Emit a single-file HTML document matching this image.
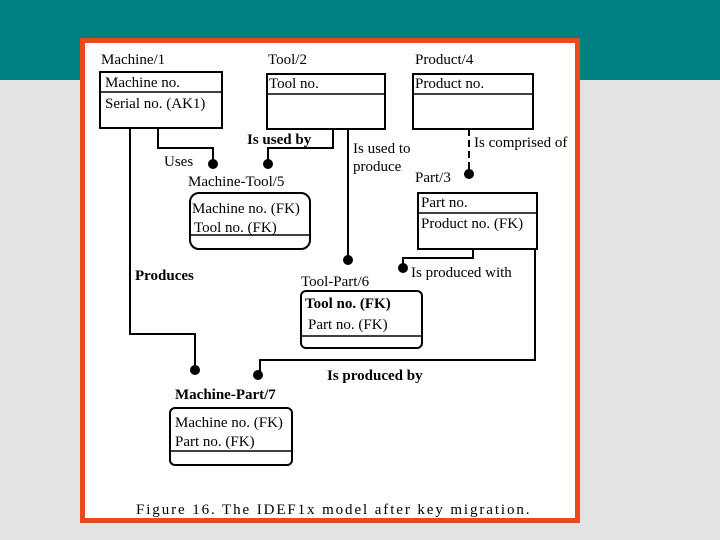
<!DOCTYPE html>
<html><head><style>
body{margin:0;width:720px;height:540px;overflow:hidden;background:#e3e3e3;position:relative;font-family:"Liberation Serif",serif;}
.top{position:absolute;left:0;top:0;width:720px;height:80px;background:#008080;}
.frame{position:absolute;left:80px;top:38px;width:490px;height:475px;border:5px solid #e84a1e;background:#fff;}
</style></head><body>
<div class="top"></div>
<div class="frame"></div>
<svg width="720" height="540" style="position:absolute;left:0;top:0" font-family="Liberation Serif, serif" font-size="15" fill="#000">
<g fill="none" stroke="#000" stroke-width="2">
<rect x="100" y="72" width="122" height="56"/><line x1="100" y1="92" x2="222" y2="92" stroke-width="1.5"/>
<rect x="267" y="74" width="118" height="55"/><line x1="267" y1="94" x2="385" y2="94" stroke-width="1.5"/>
<rect x="413" y="74" width="120" height="55"/><line x1="413" y1="94" x2="533" y2="94" stroke-width="1.5"/>
<rect x="190" y="193" width="120" height="56" rx="9"/><line x1="190" y1="235" x2="310" y2="235" stroke-width="1.5"/>
<rect x="418" y="193" width="119" height="56"/><line x1="418" y1="213" x2="537" y2="213" stroke-width="1.5"/>
<rect x="301" y="291" width="121" height="57" rx="5"/><line x1="301" y1="336" x2="422" y2="336" stroke-width="1.5"/>
<rect x="170" y="408" width="122" height="57" rx="5"/><line x1="170" y1="451" x2="292" y2="451" stroke-width="1.5"/>
<polyline points="130,128 130,334 195,334 195,368"/>
<polyline points="158,128 158,148 213,148 213,162"/>
<polyline points="333,129 333,148 268,148 268,162"/>
<line x1="348" y1="129" x2="348" y2="258"/>
<line x1="469" y1="129" x2="469" y2="170" stroke-dasharray="7,4"/>
<polyline points="473,249 473,258 403,258 403,266"/>
<polyline points="535,249 535,360 260,360 260,373"/>
</g>
<g fill="#000">
<circle cx="213" cy="164" r="5"/><circle cx="268" cy="164" r="5"/>
<circle cx="348" cy="260" r="5"/><circle cx="469" cy="174" r="5"/>
<circle cx="403" cy="268" r="5"/><circle cx="195" cy="370" r="5"/>
<circle cx="258" cy="375" r="5"/>
</g>
<text x="101" y="64">Machine/1</text>
<text x="268" y="64">Tool/2</text>
<text x="415" y="64">Product/4</text>
<text x="105" y="87">Machine no.</text>
<text x="105" y="108">Serial no.  (AK1)</text>
<text x="269" y="88">Tool no.</text>
<text x="415" y="88">Product no.</text>
<text x="247" y="144" font-weight="bold">Is used by</text>
<text x="164" y="166">Uses</text>
<text x="353" y="153">Is used to</text>
<text x="353" y="171">produce</text>
<text x="474" y="147">Is comprised of</text>
<text x="188" y="186">Machine-Tool/5</text>
<text x="415" y="182">Part/3</text>
<text x="192" y="213">Machine no.  (FK)</text>
<text x="194" y="232">Tool no.  (FK)</text>
<text x="421" y="207">Part no.</text>
<text x="421" y="228">Product no.  (FK)</text>
<text x="135" y="280" font-weight="bold">Produces</text>
<text x="411" y="277">Is produced with</text>
<text x="301" y="286">Tool-Part/6</text>
<text x="305" y="308" font-weight="bold">Tool no. (FK)</text>
<text x="308" y="329">Part no.  (FK)</text>
<text x="327" y="380" font-weight="bold">Is produced by</text>
<text x="175" y="399" font-weight="bold">Machine-Part/7</text>
<text x="175" y="427">Machine no. (FK)</text>
<text x="175" y="446">Part no. (FK)</text>
<text x="136" y="514" font-size="15" letter-spacing="1.9">Figure 16.  The IDEF1x model after key migration.</text>
</svg>
</body></html>
